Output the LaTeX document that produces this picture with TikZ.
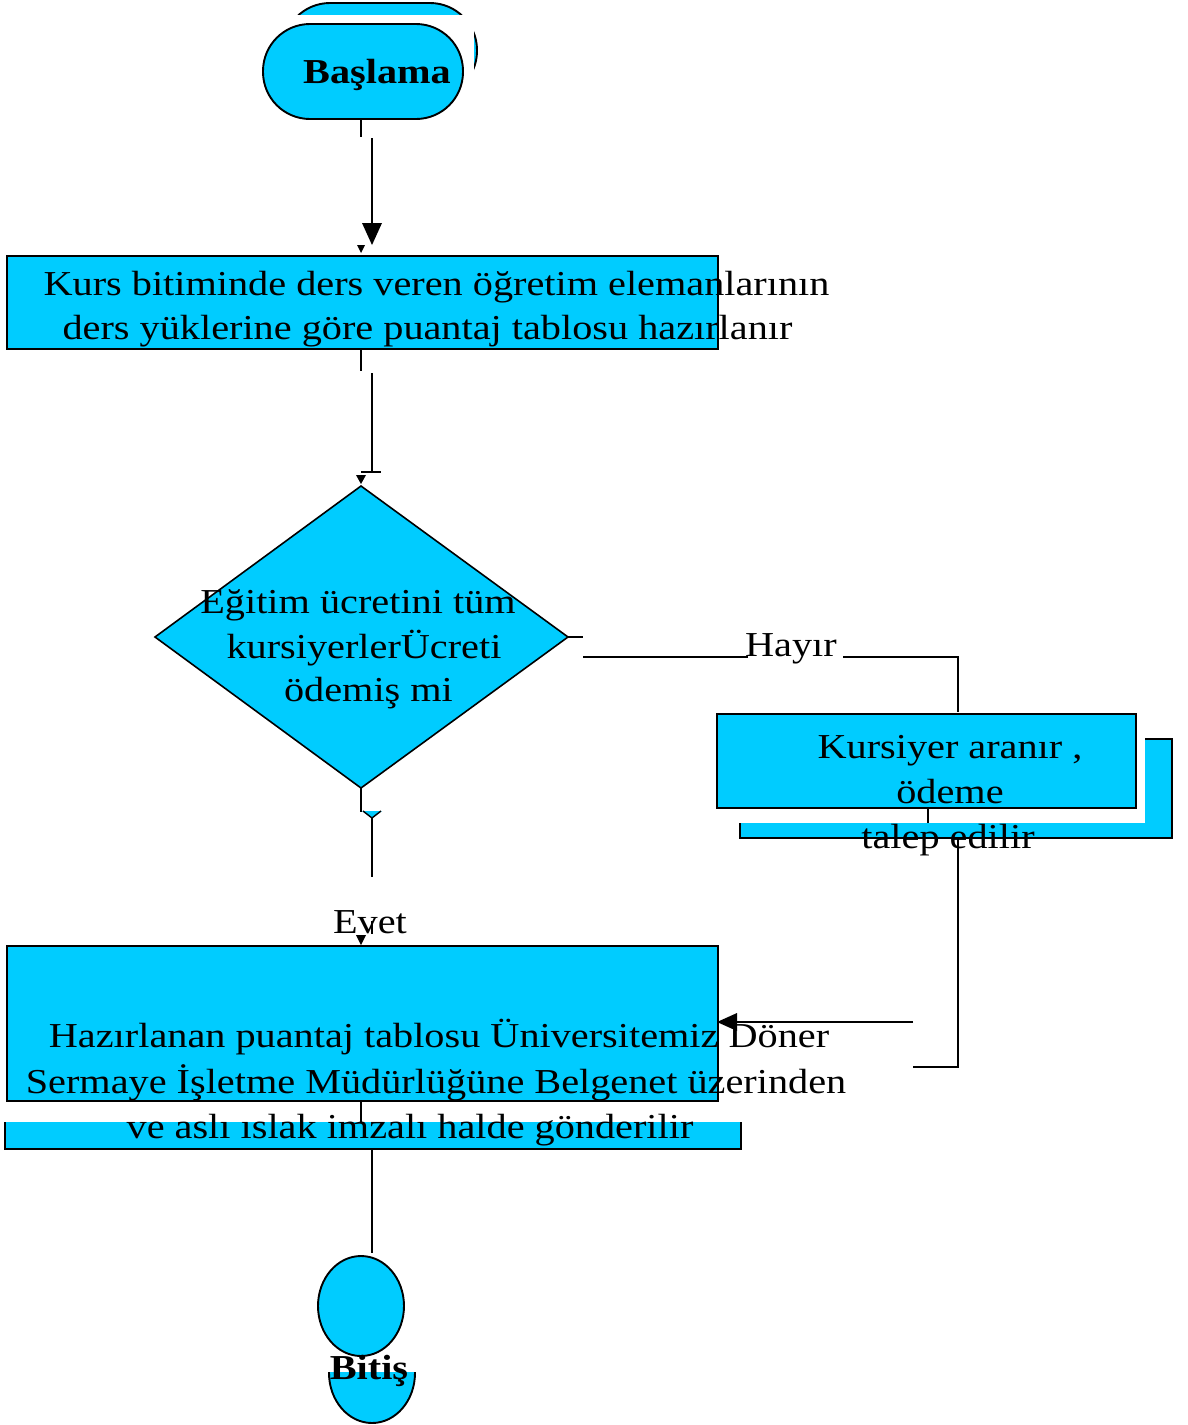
\documentclass[tikz,border=0pt]{standalone}
\usepackage{fontspec}
\usetikzlibrary{shapes.geometric}
\setmainfont{Liberation Serif}[FakeStretch=1.15]
\definecolor{fc}{RGB}{0,204,255}
\tikzset{
  shp/.style={draw=black, line width=1.9pt, fill=fc},
  ln/.style={draw=black, line width=2pt},
  txt/.style={font=\fontsize{35}{42}\selectfont, anchor=base, inner sep=0pt},
  btxt/.style={font=\fontsize{35}{42}\selectfont\bfseries, anchor=base, inner sep=0pt},
  tipf/.style={fill=black, draw=none},
  blank/.style={fill=white, draw=none},
}
\begin{document}
\begin{tikzpicture}[x=1pt,y=-1pt]
\useasboundingbox (0,0) rectangle (1187,1425);
% ---------- start ----------
\node[shp, rounded corners=47pt, minimum width=194pt, minimum height=95pt, inner sep=0pt] (startback) at (380,50.5) {};
\fill[blank] (255,15) rectangle (474,128);
\node[shp, rounded corners=47pt, minimum width=200pt, minimum height=95pt, inner sep=0pt] (start) at (363,71.5) {};
\node[btxt] (startlbl) at (377,83) {Başlama};
% ---------- start -> box1 ----------
\coordinate (a1) at (361,119); \coordinate (a2) at (361,137);
\coordinate (a3) at (372,138); \coordinate (a4) at (372,224);
\draw[ln] (a1) -- (a2);
\draw[ln] (a3) -- (a4);
\fill[tipf] (362,223) -- (382,223) -- (372,245) -- cycle;
\fill[tipf] (357,245) -- (365,245) -- (361,253) -- cycle;
% ---------- box1 ----------
\node[shp, minimum width=711pt, minimum height=93pt, inner sep=0pt] (box1) at (362.5,302.5) {};
\node[txt] (b1l1) at (436.5,295) {Kurs bitiminde ders veren öğretim elemanlarının};
\node[txt] (b1l2) at (427.5,339) {ders yüklerine göre puantaj tablosu hazırlanır};
% ---------- box1 -> diamond ----------
\coordinate (c1) at (361,349); \coordinate (c2) at (361,371);
\coordinate (c3) at (372,373); \coordinate (c4) at (372,472);
\coordinate (c5) at (361,472); \coordinate (c6) at (381,472);
\draw[ln] (c1) -- (c2);
\draw[ln] (c3) -- (c4);
\draw[ln] (c5) -- (c6);
\fill[tipf] (356,475) -- (366,475) -- (361,484) -- cycle;
% ---------- diamond ----------
\coordinate (dtop) at (361,486);
\coordinate (dright) at (568,637);
\coordinate (dbot) at (361,788);
\coordinate (dleft) at (155,637);
\draw[shp, line width=1.6pt] (dtop) -- (dright) -- (dbot) -- (dleft) -- cycle;
\node[txt] (dl1) at (358,613) {Eğitim ücretini tüm};
\node[txt] (dl2) at (364,658) {kursiyerlerÜcreti};
\node[txt] (dl3) at (368.5,701) {ödemiş mi};
% ---------- Hayır branch ----------
\coordinate (h0) at (583,637);
\coordinate (h1) at (583,657); \coordinate (h2) at (748,657);
\coordinate (h3) at (843,657); \coordinate (h4) at (958,657);
\coordinate (h5) at (958,712);
\draw[ln] (dright) -- (h0);
\draw[ln] (h1) -- (h2);
\draw[ln] (h3) -- (h4) -- (h5);
\node[txt] (hayir) at (791,656) {Hayır};
% ---------- right box ----------
\draw[shp] (740,739) rectangle (1172,838);
\fill[blank] (700,716) rectangle (1145,823);
\draw[ln] (958,700) -- (h5);
\node[shp, minimum width=419pt, minimum height=94pt, inner sep=0pt] (rbox) at (926.5,761) {};
\coordinate (r1) at (927.5,808); \coordinate (r2) at (927.5,823);
\draw[ln] (r1) -- (r2);
\node[txt] (rl1) at (950,758) {Kursiyer aranır ,};
\node[txt] (rl2) at (950,803) {ödeme};
\node[txt] (rl3) at (948,848) {talep edilir};
% ---------- right box -> bottom box ----------
\coordinate (k1) at (958,838); \coordinate (k2) at (958,1067);
\coordinate (k3) at (913,1067);
\coordinate (k4) at (913,1022); \coordinate (k5) at (736,1022);
\draw[ln] (k1) -- (k2) -- (k3);
\draw[ln] (k4) -- (k5);
% ---------- diamond -> bottom box ----------
\coordinate (e1) at (361,812);
\coordinate (e2) at (372,818); \coordinate (e3) at (372,877);
\draw[ln] (dbot) -- (e1);
\fill[fc] (362,811) -- (382,811) -- (372,818) -- cycle;
\draw[ln, line width=1.4pt] (363,811) -- (372,818) -- (381,811);
\draw[ln] (e2) -- (e3);
\node[txt] (evet) at (370,933) {Evet};
\draw[ln, line width=1.4pt] (372,921) -- (372,934);
\fill[tipf] (356,935) -- (366,935) -- (361,945) -- cycle;
% ---------- bottom box ----------
\draw[shp] (5,1105) rectangle (741,1149);
\fill[blank] (0,1101) rectangle (746,1122);
\node[shp, minimum width=711pt, minimum height=155pt, inner sep=0pt] (box2) at (362.5,1023.5) {};
\fill[tipf] (717,1022) -- (737,1013) -- (737,1031) -- cycle;
\node[txt] (b2l1) at (439,1047) {Hazırlanan puantaj tablosu Üniversitemiz Döner};
\node[txt] (b2l2) at (436,1093) {Sermaye İşletme Müdürlüğüne Belgenet üzerinden};
\node[txt] (b2l3) at (410,1138) {ve aslı ıslak imzalı halde gönderilir};
% ---------- bottom box -> end ----------
\coordinate (f1) at (361,1101); \coordinate (f2) at (361,1122);
\coordinate (f3) at (372,1150); \coordinate (f4) at (372,1253);
\draw[ln] (f1) -- (f2);
\draw[ln] (f3) -- (f4);
% ---------- end ----------
\draw[shp] (372,1373) ellipse [x radius=43, y radius=50];
\fill[blank] (322,1300) rectangle (420,1372);
\node[shp, ellipse, minimum width=86pt, minimum height=100pt, inner sep=0pt] (endn) at (361,1306) {};
\node[btxt] (endlbl) at (369,1379) {Bitiş};
\end{tikzpicture}
\end{document}
